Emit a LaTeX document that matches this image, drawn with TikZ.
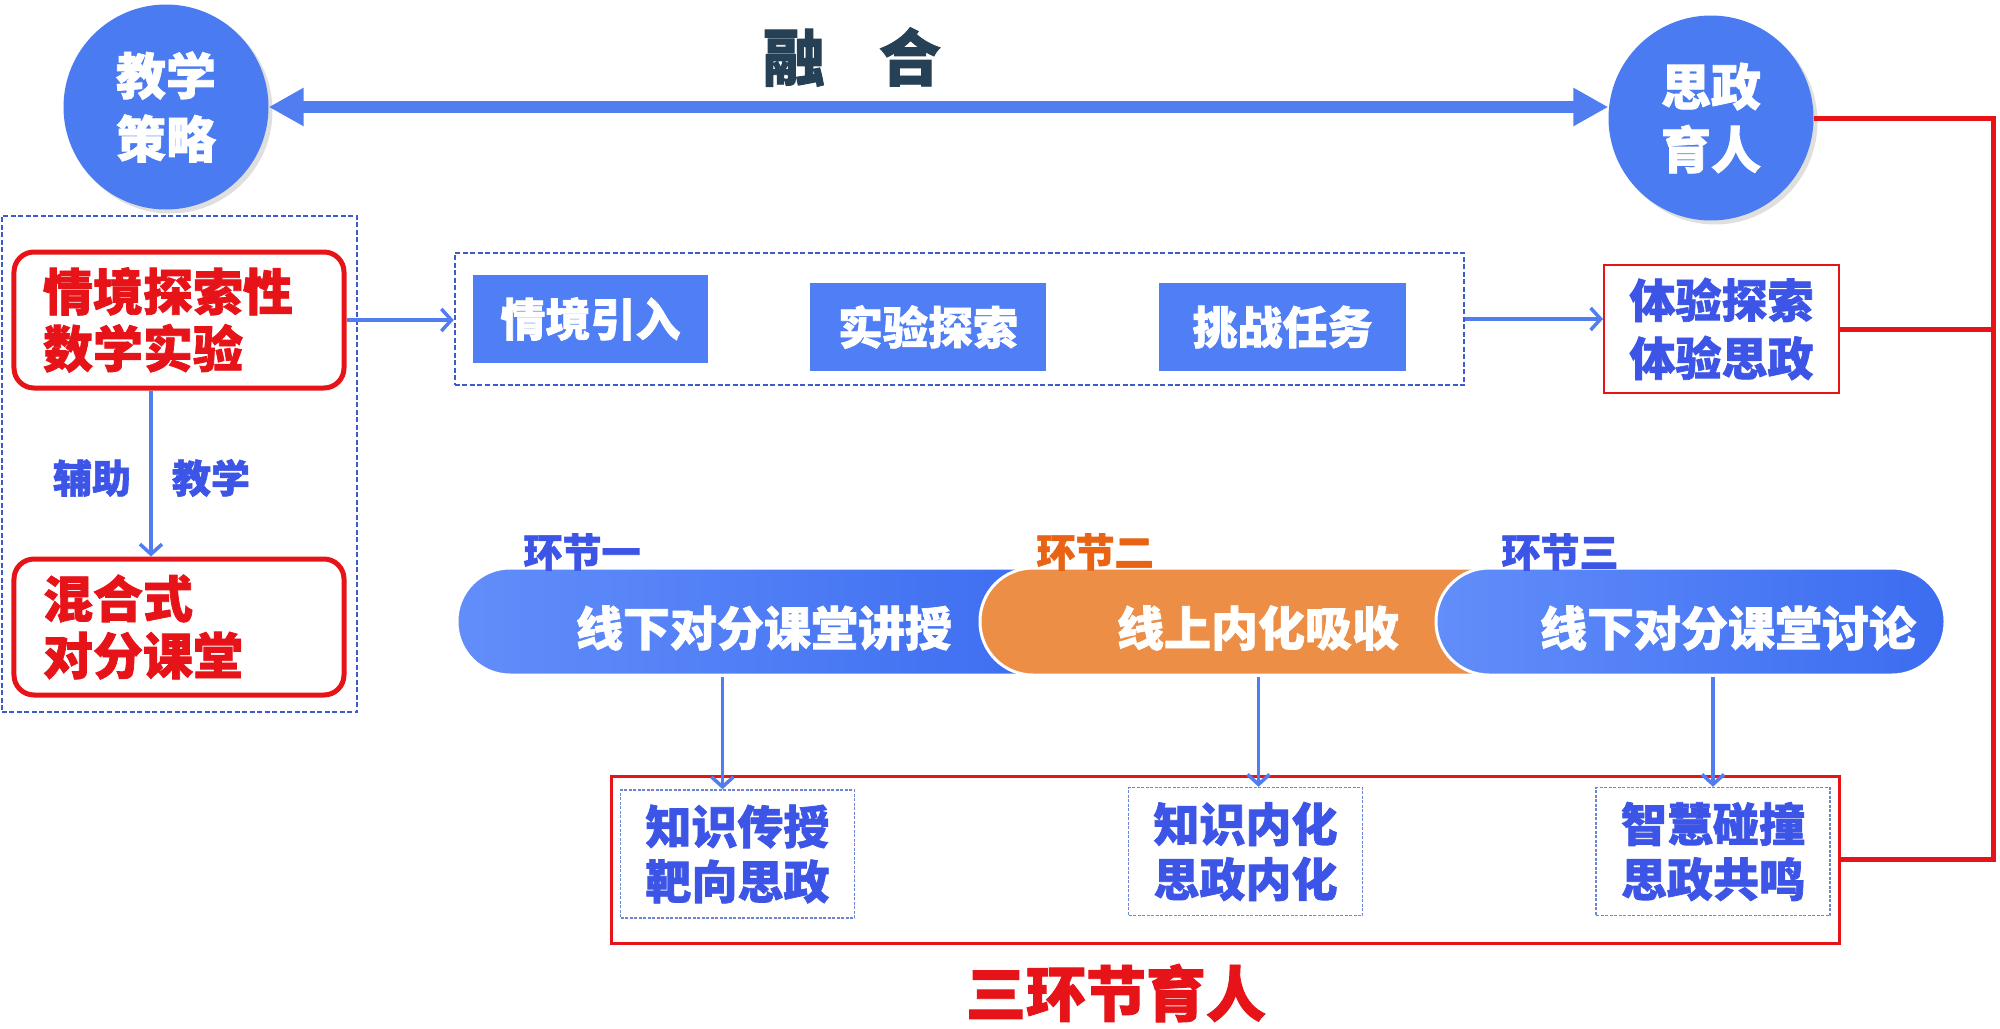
\documentclass[tikz,border=0pt]{standalone}
\usepackage{fontspec}
\newfontfamily\cjk{Noto Sans CJK SC}[BoldFeatures={FakeBold=1.5}]
\usetikzlibrary{positioning,arrows.meta,shadows}
\newcommand\cjkb[2]{\cjk\bfseries\fontsize{#1bp}{#2bp}\selectfont}
\definecolor{ballblue}{RGB}{74,123,240}
\definecolor{boxblue}{RGB}{79,126,245}
\definecolor{arrblue}{RGB}{80,125,240}
\definecolor{dashblue}{RGB}{60,90,210}
\definecolor{dotblue}{RGB}{105,135,210}
\definecolor{txtblue}{RGB}{61,85,230}
\definecolor{laneA}{RGB}{98,142,250}
\definecolor{laneB}{RGB}{60,108,240}
\definecolor{laneorange}{RGB}{236,142,70}
\definecolor{tagorange}{RGB}{232,100,20}
\definecolor{darktext}{RGB}{38,65,85}
\definecolor{cred}{RGB}{230,20,25}

\begin{document}
\begin{tikzpicture}[x=1bp, y=-1bp, >=Latex,
    every node/.style={font=\cjkb{46}{55}, inner sep=0pt},
    ball/.style={circle, fill=ballblue, minimum size=205bp, align=center, text=white, font=\cjkb{50}{63},
      drop shadow={opacity=0.25, shadow xshift=4bp, shadow yshift=-4bp}},
    redbox/.style={draw=cred, line width=5bp, rounded corners=20bp, minimum height=136bp, text width=272bp,
      inner xsep=29bp, align=left, text=cred, font=\cjkb{50}{57}},
    dashbox/.style={draw=dashblue, line width=2.5bp, dash pattern=on 5bp off 2.5bp},
    dotbox/.style={draw=dotblue, line width=1.5bp, dash pattern=on 3bp off 1.5bp, minimum width=234bp,
      minimum height=128bp, align=center, text=txtblue},
    bluebox/.style={fill=boxblue, text=white, minimum height=88bp, font=\cjkb{45}{45}},
    lane/.style={rounded corners=53bp, minimum height=107bp, draw=white, line width=3bp},
    lanetext/.style={text=white, font=\cjkb{47}{47}},
    tag/.style={font=\cjkb{39}{39}},
    arr/.style={draw=arrblue, line width=3.5bp, -{Straight Barb[length=10bp, width=22bp]}},
    bigarr/.style={draw=arrblue, line width=12bp, {Triangle[length=35bp, width=36bp]}-{Triangle[length=35bp, width=36bp]}},
    redline/.style={draw=cred, line width=5bp}]
  \useasboundingbox (0,0) rectangle (2000,1028);

  \node[ball] (strategy) at (166,107) {教学\\策略};
  \node[ball] (ideology) at (1711,118) {思政\\育人};
  \node[font=\cjkb{62}{62}, text=darktext] (fuse) at (852,57) {融\hspace{54bp}合};
  \draw[bigarr] (strategy.east) -- (strategy.east -| ideology.west);

  \node[dashbox, minimum width=355bp, minimum height=496bp] (method) at (179.5,464) {};
  \node[redbox] (explore) at (179,320) {情境探索性\\数学实验};
  \node[redbox] (mixed) at (179,627) {混合式\\对分课堂};
  \draw[arr] ([xshift=-28bp]explore.south) -- ([xshift=-28bp]mixed.north);
  \node[tag, text=txtblue] (aid) at (92,478) {辅助};
  \node[tag, text=txtblue] (teach) at (211,478) {教学};

  \node[dashbox, minimum width=1009bp, minimum height=132bp] (steps) at (959.5,319) {};
  \node[bluebox, minimum width=235bp] (intro) at (590.5,319) {情境引入};
  \node[bluebox, minimum width=236bp] (trial) at (928,327) {实验探索};
  \node[bluebox, minimum width=247bp] (task) at (1282.5,327) {挑战任务};
  \node[draw=cred, line width=2bp, minimum width=235bp, minimum height=128bp, align=center,
    text=txtblue, font=\cjkb{46}{58}] (feel) at (1721.5,329) {体验探索\\体验思政};
  \draw[arr] (explore.east) -- (explore.east -| steps.west);
  \draw[arr] (steps.east) -- (steps.east -| feel.west);

  \node[lane, left color=laneA, right color=laneB, minimum width=613bp] (lane1) at (763.5,621.5) {};
  \node[lane, fill=laneorange, minimum width=556bp] (lane2) at (1258,621.5) {};
  \node[lane, left color=laneA, right color=laneB, minimum width=509bp] (lane3) at (1690.5,621.5) {};
  \node[lanetext] (lecture) at (764,628) {线下对分课堂讲授};
  \node[lanetext] (online) at (1258,628) {线上内化吸收};
  \node[lanetext] (discuss) at (1728,628) {线下对分课堂讨论};
  \node[tag, text=txtblue] (tag1) at (582,552) {环节一};
  \node[tag, text=tagorange] (tag2) at (1095,552) {环节二};
  \node[tag, text=txtblue] (tag3) at (1560,552) {环节三};

  \node[draw=cred, line width=3bp, minimum width=1227bp, minimum height=167bp] (ring) at (1225.5,859.5) {};
  \node[dotbox] (out1) at (737.5,854) {知识传授\\靶向思政};
  \node[dotbox] (out2) at (1245.5,851.5) {知识内化\\思政内化};
  \node[dotbox] (out3) at (1713,851.5) {智慧碰撞\\思政共鸣};
  \draw[arr] ([xshift=-15bp]out1.north |- lane1.south) -- ([xshift=-15bp]out1.north);
  \draw[arr] ([xshift=13bp]out2.north |- lane2.south) -- ([xshift=13bp]out2.north);
  \draw[arr] (out3.north |- lane3.south) -- (out3.north);
  \node[font=\cjkb{60}{60}, text=cred] (title) at (1116,993) {三环节育人};

  \coordinate (rail) at (1993,118);
  \draw[redline] (ideology.east) -- (rail) |- (ring.east);
  \draw[redline] (feel.east) -- (feel.east -| rail);
\end{tikzpicture}
\end{document}
